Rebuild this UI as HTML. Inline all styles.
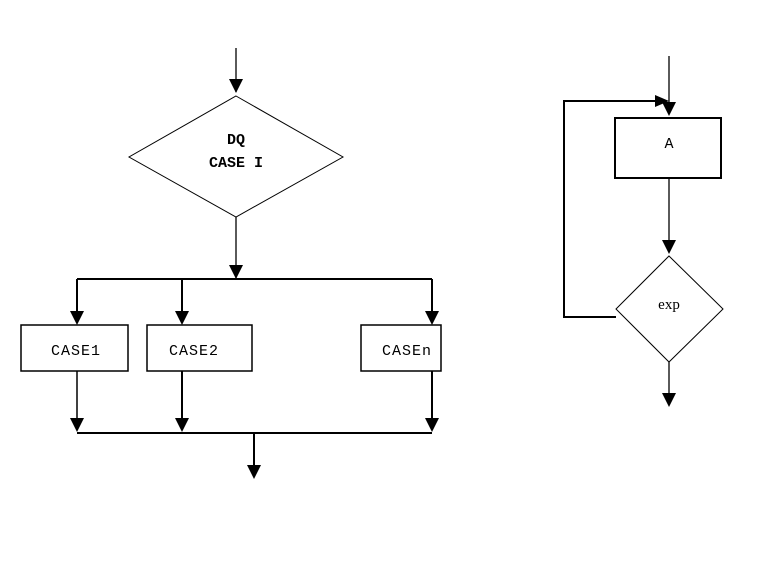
<!DOCTYPE html>
<html><head><style>body{margin:0;background:#fff}svg{display:block}</style></head><body>
<svg width="759" height="568" xmlns="http://www.w3.org/2000/svg">
<g stroke="#000" fill="none">
<line x1="236" y1="48" x2="236" y2="92" stroke-width="1.3"/>
<polygon points="236,96 343,157 236,217 129,157" stroke-width="1" fill="#fff"/>
<line x1="236" y1="217" x2="236" y2="279" stroke-width="1.3"/>
<line x1="77" y1="279" x2="432" y2="279" stroke-width="2"/>
<line x1="77" y1="279" x2="77" y2="314" stroke-width="2"/>
<line x1="182" y1="279" x2="182" y2="314" stroke-width="2"/>
<line x1="432" y1="279" x2="432" y2="314" stroke-width="2"/>
<rect x="21" y="325" width="107" height="46" stroke-width="1.5"/>
<rect x="147" y="325" width="105" height="46" stroke-width="1.5"/>
<rect x="361" y="325" width="80" height="46" stroke-width="1.5"/>
<line x1="77" y1="371" x2="77" y2="420" stroke-width="1.5"/>
<line x1="182" y1="371" x2="182" y2="420" stroke-width="2"/>
<line x1="432" y1="371" x2="432" y2="420" stroke-width="2"/>
<line x1="77" y1="433" x2="432" y2="433" stroke-width="2"/>
<line x1="254" y1="433" x2="254" y2="468" stroke-width="2"/>
<line x1="669" y1="56" x2="669" y2="105" stroke-width="1.3"/>
<rect x="615" y="118" width="106" height="60" stroke-width="2"/>
<line x1="669" y1="178" x2="669" y2="242" stroke-width="1.3"/>
<polygon points="669,256 723,309 669,362 616,309" stroke-width="1" fill="#fff"/>
<polyline points="616,317 564,317 564,101 660,101" stroke-width="2"/>
<line x1="669" y1="362" x2="669" y2="396" stroke-width="1.3"/>
</g>
<g fill="#000">
<polygon points="229,79 243,79 236,93"/>
<polygon points="229,265 243,265 236,279"/>
<polygon points="70,311 84,311 77,325"/>
<polygon points="175,311 189,311 182,325"/>
<polygon points="425,311 439,311 432,325"/>
<polygon points="70,418 84,418 77,432"/>
<polygon points="175,418 189,418 182,432"/>
<polygon points="425,418 439,418 432,432"/>
<polygon points="247,465 261,465 254,479"/>
<polygon points="655,95 655,107 669,101"/>
<polygon points="662,102 676,102 669,116"/>
<polygon points="662,240 676,240 669,254"/>
<polygon points="662,393 676,393 669,407"/>
</g>
<g font-family="Liberation Mono, monospace" text-anchor="middle">
<text x="236" y="144" font-size="15" font-weight="bold">DQ</text>
<text x="236" y="167" font-size="15" font-weight="bold">CASE I</text>
<text x="76" y="355" font-size="15" letter-spacing="1">CASE1</text>
<text x="194" y="355" font-size="15" letter-spacing="1">CASE2</text>
<text x="407" y="355" font-size="15" letter-spacing="1">CASEn</text>
<text x="669" y="148" font-size="15">A</text>
</g>
<text x="669" y="309" font-family="Liberation Serif, serif" font-size="15" text-anchor="middle">exp</text>
</svg>
</body></html>
